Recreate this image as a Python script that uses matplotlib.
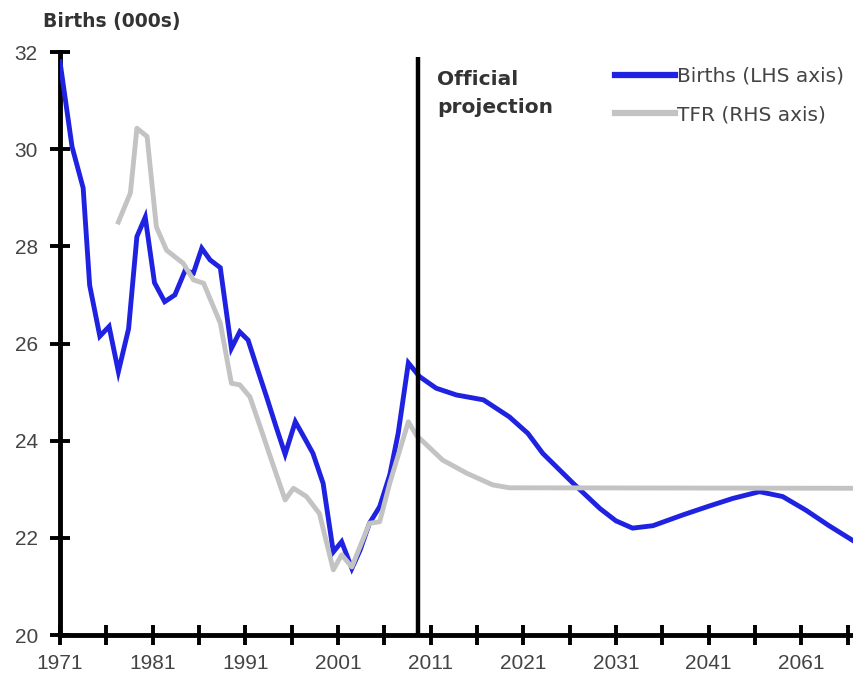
import matplotlib
matplotlib.use("Agg")
import matplotlib.pyplot as plt

# ---- data ----
births_years = [1971.0, 1972.3, 1973.5, 1974.2, 1975.3, 1976.3, 1977.3, 1978.4, 1979.3, 1980.2,
                1981.2, 1982.3, 1983.4, 1984.5, 1985.4, 1986.3, 1987.2, 1988.3, 1989.5, 1990.4,
                1991.3, 1992.3, 1993.3, 1994.3, 1995.3, 1996.4, 1997.2, 1998.3, 1999.4, 2000.5,
                2001.4, 2002.5, 2003.4, 2004.4, 2005.5, 2006.6, 2007.5, 2008.6, 2009.8, 2011.6,
                2013.8, 2016.7, 2019.5, 2021.5, 2023.1, 2026.4, 2029.3, 2031.0, 2032.8, 2035.0,
                2038.2, 2041.0, 2043.6, 2046.5, 2049.0, 2051.5, 2054.0, 2056.7]
births_values = [31.8, 30.05, 29.2, 27.2, 26.15, 26.35, 25.42, 26.3, 28.2, 28.6,
                 27.25, 26.86, 27.0, 27.5, 27.45, 27.96, 27.72, 27.56, 25.9, 26.24,
                 26.07, 25.48, 24.9, 24.3, 23.72, 24.39, 24.12, 23.74, 23.12, 21.71,
                 21.92, 21.37, 21.75, 22.3, 22.64, 23.3, 24.15, 25.6, 25.32, 25.08,
                 24.94, 24.84, 24.49, 24.15, 23.74, 23.12, 22.6, 22.35, 22.2, 22.25,
                 22.47, 22.65, 22.81, 22.95, 22.85, 22.57, 22.25, 21.93]

# TFR shown on the births scale (RHS axis not visible in the picture)
tfr_years = [1977.3, 1978.6, 1979.3, 1980.4, 1981.4, 1982.5, 1984.3, 1985.4, 1986.5, 1988.3,
             1989.5, 1990.4, 1991.5, 1992.6, 1994.0, 1995.3, 1996.2, 1997.6, 1999.0, 2000.5,
             2001.4, 2002.5, 2004.4, 2005.5, 2006.6, 2008.6, 2009.5, 2010.2, 2012.3, 2014.9,
             2017.7, 2019.5, 2056.7]
tfr_values = [28.5, 29.1, 30.43, 30.26, 28.4, 27.92, 27.65, 27.31, 27.24, 26.42,
              25.18, 25.15, 24.9, 24.29, 23.5, 22.78, 23.02, 22.85, 22.5, 21.34,
              21.65, 21.4, 22.3, 22.33, 23.13, 24.39, 24.1, 23.98, 23.6, 23.33,
              23.09, 23.03, 23.02]

projection_start = 2009.65
x_ticks = [1971, 1976, 1981, 1986, 1991, 1996, 2001, 2006, 2011, 2016,
           2021, 2026, 2031, 2036, 2041, 2046, 2051, 2056]
x_tick_labels = ["1971", "", "1981", "", "1991", "", "2001", "", "2011", "",
                 "2021", "", "2031", "", "2041", "", "2061", ""]
y_ticks = [20, 22, 24, 26, 28, 30, 32]

# ---- figure ----
fig = plt.figure(figsize=(8.54, 6.79), dpi=100)
ax = fig.add_axes([60/854, 44/679, 794/854, 583/679])

blue = "#1f22e0"
grey = "#c3c3c3"
ax.plot(births_years, births_values, color=blue, lw=3.5, solid_joinstyle="miter",
        label="Births (LHS axis)", zorder=3)
ax.plot(tfr_years, tfr_values, color=grey, lw=3.5, label="TFR (RHS axis)", zorder=4)
ax.vlines(projection_start, 20, 31.9, color="black", lw=3.2, zorder=5)

ax.set_xlim(1971, 2056.7)
ax.set_ylim(20, 32)
ax.set_xticks(x_ticks)
ax.set_xticklabels(x_tick_labels)
ax.set_yticks(y_ticks)
ax.set_yticklabels([str(v) for v in y_ticks])

for s in ["top", "right"]:
    ax.spines[s].set_visible(False)
for s in ["left", "bottom"]:
    ax.spines[s].set_linewidth(3.5)
    ax.spines[s].set_color("black")
ax.tick_params(axis="both", direction="inout", length=14, width=2.8, color="black",
               labelsize=15, labelcolor="#444444")
ax.tick_params(axis="x", pad=7)
ax.tick_params(axis="y", pad=9)
for lab in ax.get_xticklabels() + ax.get_yticklabels():
    lab.set_clip_on(False)
    lab.set_fontfamily("Liberation Sans")

fig.text(43/854, 1 - 21/679, "Births (000s)", fontsize=13.5, fontweight="bold",
         color="#333333", va="center", ha="left")
fig.text(437/854, 1 - 70/679, "Official\nprojection", fontsize=14.5, fontweight="bold",
         color="#333333", va="top", ha="left", linespacing=1.6)

leg = ax.legend(loc="upper left", bbox_to_anchor=(615/854, 1 - 67/679),
                bbox_transform=fig.transFigure, frameon=False, fontsize=14.5,
                handlelength=3.0, handletextpad=0.1, labelspacing=0.95,
                borderpad=0, borderaxespad=0)
for t in leg.get_texts():
    t.set_color("#444444")
for h in leg.get_lines():
    h.set_linewidth(4.5)

fig.savefig("out.png", dpi=100)
